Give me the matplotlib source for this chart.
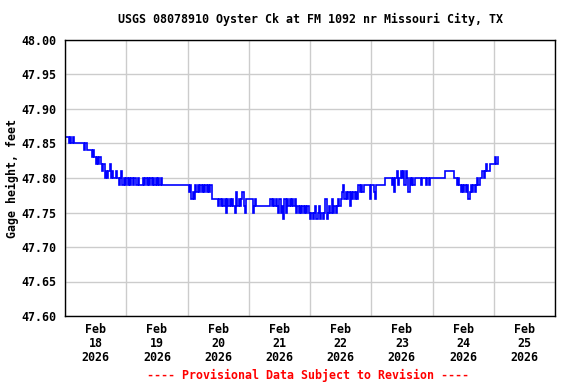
"""
USGS gage height hydrograph, Oyster Ck at FM 1092 nr Missouri City, TX.
Half-hour readings, Feb 18 - Feb 25 2026.
"""

import matplotlib
matplotlib.use("Agg")
import matplotlib.pyplot as plt
import numpy as np
import pandas as pd

# ── Settings ──────────────────────────────────────────────────────────────────
TITLE   = "USGS 08078910 Oyster Ck at FM 1092 nr Missouri City, TX"
YLABEL  = "Gage height, feet"
FOOTER  = "---- Provisional Data Subject to Revision ----"
FONT    = "DejaVu Sans Mono"
BLUE    = "#0000ff"
RED     = "#ff0000"
GRID    = "#cccccc"

START   = "2026-02-18 00:00"
BASE_FT = 47.0   # readings below are hundredths of a foot above this

# ── Data: gage height, hundredths above 47 ft, every 30 min ───────────────────
feb18 = [86, 86, 86, 85, 86, 85, 86, 85, 85, 85, 85, 85, 85, 85, 85, 84,
         85, 84, 84, 84, 84, 83, 84, 83, 82, 83, 82, 83, 82, 81, 82, 80,
         81, 80, 81, 82, 80, 81, 80, 80, 81, 80, 79, 80, 81, 79, 80, 79]
feb19 = [80, 79, 80, 79, 80, 79, 80, 80, 79, 80, 79, 79, 79, 80, 79, 80,
         79, 80, 79, 80, 79, 80, 79, 80, 79, 80, 79, 80, 79, 79, 79, 79,
         79, 79, 79, 79, 79, 79, 79, 79, 79, 79, 79, 79, 79, 79, 79, 79]
feb20 = [79, 78, 79, 77, 78, 77, 79, 78, 79, 78, 79, 78, 79, 78, 79, 78,
         79, 78, 79, 77, 77, 77, 77, 77, 76, 77, 76, 77, 76, 77, 75, 77,
         76, 77, 76, 77, 76, 75, 78, 76, 77, 76, 77, 78, 76, 75, 77, 77]
feb21 = [77, 77, 77, 75, 76, 77, 76, 76, 76, 76, 76, 76, 76, 76, 76, 76,
         76, 77, 76, 77, 76, 77, 76, 75, 77, 75, 76, 74, 77, 75, 77, 76,
         77, 76, 77, 76, 77, 75, 76, 75, 76, 75, 76, 75, 76, 75, 76, 75]
feb22 = [74, 75, 74, 75, 76, 74, 75, 76, 74, 75, 74, 75, 77, 74, 75, 76,
         75, 77, 75, 76, 75, 76, 77, 76, 77, 78, 79, 77, 78, 77, 78, 76,
         78, 77, 78, 77, 78, 77, 79, 78, 79, 78, 79, 79, 79, 79, 79, 77]
feb23 = [79, 79, 78, 77, 79, 79, 79, 79, 79, 79, 79, 80, 80, 80, 80, 80,
         79, 80, 78, 80, 81, 79, 80, 81, 80, 81, 79, 81, 80, 78, 80, 79,
         80, 79, 80, 80, 80, 80, 80, 79, 80, 80, 80, 79, 80, 79, 80, 80]
feb24 = [80, 80, 80, 80, 80, 80, 80, 80, 80, 80, 81, 81, 81, 81, 81, 81,
         81, 80, 80, 79, 80, 79, 78, 79, 78, 79, 78, 79, 77, 78, 79, 78,
         79, 78, 79, 80, 79, 80, 80, 81, 80, 81, 82, 81, 81, 82, 82, 82]
feb25 = [82, 83, 82, 83]

# ── Axis labels ───────────────────────────────────────────────────────────────
day_labels = ["Feb\n18\n2026", "Feb\n19\n2026", "Feb\n20\n2026", "Feb\n21\n2026",
              "Feb\n22\n2026", "Feb\n23\n2026", "Feb\n24\n2026", "Feb\n25\n2026"]
y_ticks = [47.60, 47.65, 47.70, 47.75, 47.80, 47.85, 47.90, 47.95, 48.00]


def build_series() -> pd.Series:
    readings = feb18 + feb19 + feb20 + feb21 + feb22 + feb23 + feb24 + feb25
    idx = pd.date_range(START, periods=len(readings), freq="30min")
    return pd.Series(BASE_FT + np.array(readings) / 100.0, index=idx)


def make_chart(series: pd.Series, out_path: str) -> None:
    fig = plt.figure(figsize=(5.76, 3.84), dpi=100, facecolor="white")
    ax = fig.add_axes([65 / 576, 1 - 316 / 384, 490 / 576, 276 / 384])

    ax.plot(series.index, series.values, color=BLUE, linewidth=1.2,
            drawstyle="steps-post", solid_joinstyle="miter")

    # midnight gridlines, labels at noon
    start = pd.Timestamp(START)
    midnights = pd.date_range(start, periods=9, freq="D")
    noons = midnights[:-1] + pd.Timedelta(hours=12)
    ax.set_xlim(midnights[0], midnights[-1])
    ax.set_xticks(midnights)
    ax.set_xticklabels([])
    ax.set_xticks(noons, minor=True)
    ax.set_xticklabels(day_labels, minor=True, family=FONT, fontsize=8.4,
                       fontweight="bold", linespacing=1.1)
    ax.tick_params(axis="x", which="both", length=0, pad=5)

    ax.set_ylim(47.60, 48.00)
    ax.set_yticks(y_ticks)
    ax.set_yticklabels([f"{v:.2f}" for v in y_ticks], family=FONT,
                       fontsize=8.4, fontweight="bold")
    ax.tick_params(axis="y", length=0, pad=6)

    ax.grid(True, which="major", color=GRID, linewidth=1.0)
    ax.set_axisbelow(True)
    for spine in ax.spines.values():
        spine.set_color("black")
        spine.set_linewidth(1.0)

    ax.set_ylabel(YLABEL, family=FONT, fontsize=8.4, fontweight="bold")
    ax.yaxis.set_label_coords((19 - 65) / 490, 0.5)
    fig.text(310 / 576, 1 - 19 / 384, TITLE, ha="center", va="center",
             family=FONT, fontsize=8.4, fontweight="bold")
    fig.text(308 / 576, 1 - 375 / 384, FOOTER, ha="center", va="center",
             family=FONT, fontsize=8.4, fontweight="bold", color=RED)

    fig.savefig(out_path, dpi=100, facecolor="white")
    plt.close(fig)


def main() -> None:
    make_chart(build_series(), "out.png")


if __name__ == "__main__":
    main()
